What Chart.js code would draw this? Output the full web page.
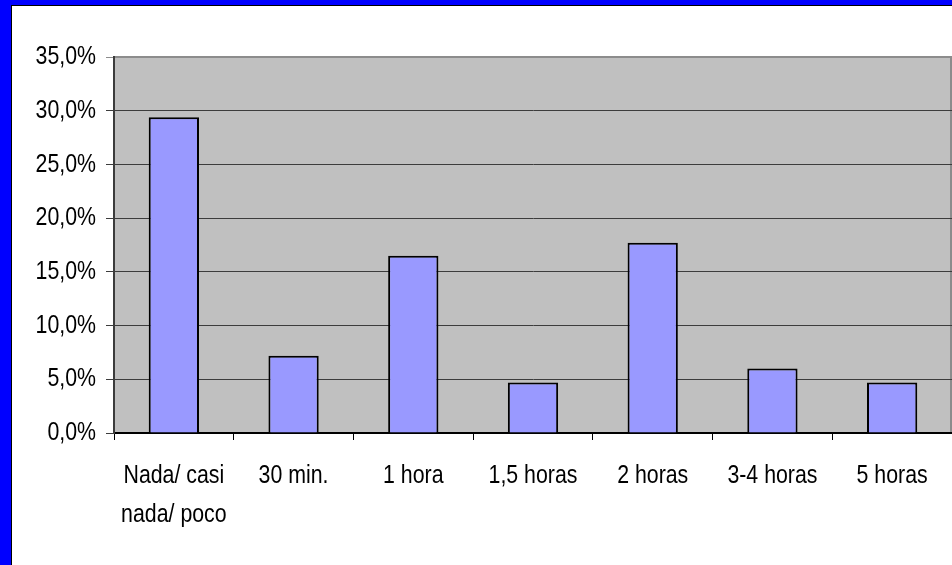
<!DOCTYPE html>
<html>
<head>
  <title>Horas</title>
  <script src="https://cdn.jsdelivr.net/npm/chart.js"></script>
  <style>
    html, body { margin: 0; padding: 0; background: #0000ff; }
    #frame {
      position: absolute; left: 11px; top: 5px;
      border-left: 1px solid #000; border-top: 1px solid #000;
      background: #fff; width: 940px; height: 559px;
    }
  </style>
</head>
<body>
  <div id="frame">
    <canvas id="horasChart" width="940" height="559"></canvas>
  </div>

  <script>
    const categories = [['Nada/ casi', 'nada/ poco'], '30 min.', '1 hora', '1,5 horas', '2 horas', '3-4 horas', '5 horas'];
    const percentages = [29.4, 7.2, 16.5, 4.7, 17.7, 6.0, 4.7];
    const yTicks = [0, 5, 10, 15, 20, 25, 30, 35];

    const fontFamily = '"Liberation Sans", Arial, sans-serif';
    const narrow = 0.82; // squeeze text like Arial Narrow

    // gray plot area + outline
    const plotBg = {
      id: 'plotBg',
      beforeDraw(chart) {
        const { ctx, chartArea: a } = chart;
        ctx.save();
        ctx.fillStyle = '#c0c0c0';
        ctx.fillRect(a.left, a.top, a.right - a.left, a.bottom - a.top);
        ctx.strokeStyle = '#8c8c8c';
        ctx.lineWidth = 2;
        ctx.beginPath();
        ctx.moveTo(a.left, a.top);
        ctx.lineTo(a.right - 1, a.top);
        ctx.lineTo(a.right - 1, a.bottom);
        ctx.stroke();
        ctx.restore();
      }
    };

    const ctx = document.getElementById('horasChart').getContext('2d');

    // draw all text horizontally condensed around its anchor point
    const origFillText = ctx.fillText.bind(ctx);
    ctx.fillText = function (text, x, y, maxWidth) {
      ctx.save();
      ctx.translate(x, y);
      ctx.scale(narrow, 1);
      origFillText(text, 0, 0);
      ctx.restore();
    };

    new Chart(ctx, {
      type: 'bar',
      data: {
        labels: categories,
        datasets: [{
          data: percentages,
          backgroundColor: '#9999ff',
          borderColor: '#000000',
          borderWidth: 2,
          barPercentage: 0.42,
          categoryPercentage: 1
        }]
      },
      options: {
        responsive: false,
        animation: false,
        layout: { padding: { top: 51, right: 0, left: 0, bottom: 0 } },
        plugins: { legend: { display: false }, tooltip: { enabled: false } },
        scales: {
          x: {
            grid: {
              offset: true,
              drawOnChartArea: false,
              drawTicks: true,
              tickLength: 7,
              color: '#000'
            },
            border: { color: '#000', width: 2 },
            ticks: {
              color: '#000',
              font: { family: fontFamily, size: 26, lineHeight: 1.5 },
              padding: 16,
              maxRotation: 0,
              autoSkip: false
            },
            afterFit(scale) { scale.height = 132; }
          },
          y: {
            min: 0,
            max: 35,
            afterBuildTicks(scale) { scale.ticks = yTicks.map(v => ({ value: v })); },
            grid: {
              color: c => c.tick && c.tick.value === 35 ? '#8c8c8c' : '#3c3c3c',
              tickLength: 8,
              lineWidth: 1
            },
            border: { color: '#3c3c3c', width: 2 },
            ticks: {
              color: '#000',
              font: { family: fontFamily, size: 26 },
              padding: 10,
              callback: v => v.toFixed(1).replace('.', ',') + '%'
            },
            afterFit(scale) { scale.width = 102; }
          }
        }
      },
      plugins: [plotBg]
    });
  </script>
</body>
</html>
